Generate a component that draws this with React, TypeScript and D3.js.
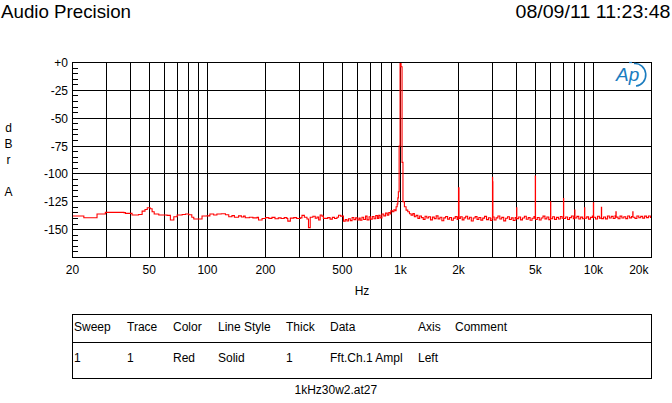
import React from 'react';
import * as d3 from 'd3';

// ---------- data ----------
const lowBandHz = [20, 22.9, 26.8, 29.6, 36.9, 37.6, 40.7, 44, 45.9, 47.5, 48.8, 50.5, 51.7, 53, 56, 61.8, 64.3, 67, 69.7, 74, 77, 80, 83, 85, 90, 93.8, 99.6, 103, 107.8, 112, 118, 124, 129, 134, 138, 145, 150, 154, 157, 165, 172, 181, 184, 192, 200, 208, 216, 224, 233, 241, 250, 258, 261, 269, 280, 290, 303, 309, 318, 328, 334, 341, 352, 362, 370, 377, 384, 392, 399, 407, 420, 432, 444, 456, 469, 478, 490, 507, 518, 528, 538, 550, 562, 574, 586, 598, 610, 619, 632, 645, 660, 672, 688, 700, 715, 730, 745, 760, 772, 785, 802, 820, 838, 855, 870, 885, 892, 910, 925, 939, 950, 962, 970, 976];
const lowBandDb = [-137.8, -139.3, -136, -134.5, -134.7, -135.4, -136.9, -136.4, -133.4, -131.9, -130.3, -131.2, -133.9, -135.9, -136.9, -137.2, -141.4, -138.4, -136.9, -136.4, -135.9, -136.6, -138.9, -140.5, -140.4, -137.8, -137.6, -136, -136.8, -135.9, -135.8, -136.7, -138.4, -137.4, -138.9, -137.6, -138.7, -137.9, -139.3, -138.9, -139.4, -139, -141.4, -140, -139.2, -139.9, -139, -140.2, -139.4, -140, -139.2, -140, -142.4, -139.7, -139.2, -140, -139.4, -137.2, -138.9, -140.4, -148.2, -138.9, -138, -139.8, -138.7, -141.4, -136.9, -137.9, -139.9, -139.9, -139.2, -140.6, -139, -140, -138.9, -137.1, -137.9, -142.4, -140.9, -142.2, -140.2, -141.9, -139.1, -141, -139.4, -141.4, -139.7, -141.6, -138.9, -140.9, -137.9, -141.2, -138.4, -140.6, -138.2, -140.2, -137.4, -139.9, -137.2, -139.4, -135.9, -137.6, -135.2, -137, -134.6, -136, -133, -133.9, -132.2, -133, -129.4, -127, -121.5, -116];

const carrierHz = [985, 996, 1008, 1020, 1031, 1049, 1070, 1092, 1114, 1136];
const carrierDb = [-75, 0, -3.8, -89.6, -125, -129.5, -132.5, -134, -135.8, -137];

const upperBandHz = [1160, 1181, 1205, 1232, 1258, 1285, 1313, 1342, 1371, 1400, 1432, 1465, 1498, 1532, 1567, 1603, 1640, 1678, 1716, 1756, 1797, 1838, 1880, 1924, 1968, 1990, 2000, 2012, 2045, 2090, 2135, 2180, 2230, 2280, 2330, 2385, 2440, 2495, 2550, 2610, 2670, 2730, 2795, 2860, 2925, 2985, 3000, 3006, 3015, 3060, 3130, 3200, 3275, 3350, 3430, 3510, 3590, 3670, 3755, 3840, 3930, 3990, 4000, 4010, 4100, 4195, 4290, 4390, 4490, 4595, 4700, 4810, 4920, 4990, 5000, 5012, 5120, 5240, 5360, 5480, 5610, 5740, 5870, 5990, 6000, 6012, 6150, 6290, 6440, 6590, 6740, 6880, 6995, 7000, 7015, 7180, 7350, 7520, 7690, 7870, 7990, 8000, 8020, 8210, 8400, 8590, 8790, 8990, 9000, 9020, 9230, 9440, 9660, 9880, 9990, 10000, 10025, 10260, 10500, 10740, 10990, 11000, 11030, 11290, 11550, 11820, 12090, 12370, 12660, 12950, 13080, 13120, 13420, 13730, 14050, 14380, 14710, 15050, 15400, 15760, 16000, 16040, 16420, 16800, 17190, 17590, 18000, 18420, 18850, 19290, 19740, 20000];
const upperBandDb = [-135.6, -138.4, -137.2, -139.9, -137.7, -139.2, -140.8, -138, -139.6, -138.4, -141.2, -138.8, -140.1, -137.6, -140.3, -138.9, -142, -139.4, -138.2, -140.6, -139.1, -141.6, -139.7, -138.3, -140.9, -139.2, -112.5, -139.9, -138.4, -141.2, -139.4, -138, -140.5, -138.9, -142.3, -139.6, -138.3, -140.8, -139.1, -141.5, -139.7, -138.1, -141, -139.3, -141.8, -139.9, -103, -107, -138.6, -141.3, -139.4, -137.7, -140.5, -139, -142.1, -139.8, -138.4, -140.9, -139.4, -141.8, -139.2, -140.4, -130.5, -140.1, -138.6, -141.2, -139.5, -138, -140.7, -139.2, -141.6, -139.8, -138.3, -140, -102, -140.9, -139.1, -141.3, -139.6, -137.9, -140.3, -138.7, -141, -139.3, -125, -140.2, -138.4, -140.8, -139, -140.4, -138.2, -139.8, -138.4, -122, -140, -138.7, -140.9, -139.2, -137.8, -140.1, -138.4, -132.4, -139.6, -138.1, -140.4, -138.8, -140.2, -138.2, -130.3, -139.8, -138.5, -140.6, -139, -137.7, -139.4, -126, -138.9, -140.4, -138, -139.7, -138.3, -130, -140.1, -138.6, -140.3, -137.8, -139.5, -138.1, -140, -137.6, -134, -138.8, -140.2, -137.9, -139.6, -138.4, -140.1, -137.7, -139.4, -138.2, -134, -138.9, -140, -137.8, -139.3, -138.1, -139.7, -137.9, -139.2, -137.7, -139, -138.6];

const xTickHz = [20, 50, 100, 200, 500, 1000, 2000, 5000, 10000, 20000];
const xTickLabels = ['20', '50', '100', '200', '500', '1k', '2k', '5k', '10k', '20k'];
const xGridHz = [30, 40, 50, 60, 70, 80, 90, 100, 200, 300, 400, 500, 600, 700, 800, 900, 1000, 2000, 3000, 4000, 5000, 6000, 7000, 8000, 9000, 10000];
const yTickDb = [0, -25, -50, -75, -100, -125, -150];
const yTickLabels = ['+0', '-25', '-50', '-75', '-100', '-125', '-150'];
const yUnitLetters = ['d', 'B', 'r', '', 'A'];

const legendHeaders = ['Sweep', 'Trace', 'Color', 'Line Style', 'Thick', 'Data', 'Axis', 'Comment'];
const legendRow = ['1', '1', 'Red', 'Solid', '1', 'Fft.Ch.1 Ampl', 'Left', ''];
const titleText = 'Audio Precision';
const dateText = '08/09/11 11:23:48';
const fileText = '1kHz30w2.at27';
const xAxisTitle = 'Hz';

// ---------- layout ----------
const W = 672;
const H = 403;
const PL = 72.5, PR = 651.5, PT = 62.5, PB = 257.5;
const legendColX = [74, 127, 173, 218, 286, 330, 418, 455];
const FONT = '"Liberation Sans", Arial, Helvetica, sans-serif';

export default function App() {
  const x = d3.scaleLog().domain([20, 20000]).range([PL, PR]);
  const y = d3.scaleLinear().domain([-175, 0]).range([PB, PT]);
  const snap = (v: number) => Math.round(v - 0.5) + 0.5;

  const hz = [...lowBandHz, ...carrierHz, ...upperBandHz];
  const db = [...lowBandDb, ...carrierDb, ...upperBandDb];
  const pts: [number, number][] = hz.map((f, i) => [f, db[i]]);
  const line = d3
    .line<[number, number]>()
    .x((d) => x(d[0]))
    .y((d) => y(d[1]))
    .curve(d3.curveStepAfter);

  const minorTicks = d3.range(-170, 0, 5);

  return (
    <svg
      width={W}
      height={H}
      viewBox={`0 0 ${W} ${H}`}
      style={{ position: 'absolute', left: 0, top: 0, background: '#fff' }}
      fontFamily={FONT}
    >
      <rect x={0} y={0} width={W} height={H} fill="#fff" />
      {/* header */}
      <text x={1} y={18} fontSize={18.5} fill="#000" textLength={130} lengthAdjust="spacingAndGlyphs">
        {titleText}
      </text>
      <text x={515.5} y={18} fontSize={18.5} fill="#000" textLength={155} lengthAdjust="spacingAndGlyphs">
        {dateText}
      </text>

      {/* grid */}
      <g stroke="#000" strokeWidth={1} shapeRendering="crispEdges">
        {yTickDb.slice(1).map((v) => (
          <line key={'h' + v} x1={PL} x2={PR} y1={snap(y(v))} y2={snap(y(v))} />
        ))}
        {xGridHz.map((f) => (
          <line key={'v' + f} x1={snap(x(f))} x2={snap(x(f))} y1={PT} y2={PB} />
        ))}
        {minorTicks.map((v) => (
          <line key={'m' + v} x1={PL} x2={PL + 5} y1={snap(y(v))} y2={snap(y(v))} />
        ))}
      </g>

      {/* trace */}
      <defs>
        <clipPath id="plotclip">
          <rect x={PL} y={PT - 1} width={PR - PL} height={PB - PT + 1} />
        </clipPath>
      </defs>
      <path d={line(pts) || ''} fill="none" stroke="#ff0000" strokeWidth={1.1} clipPath="url(#plotclip)" />

      {/* border */}
      <rect x={PL} y={PT} width={PR - PL} height={PB - PT} fill="none" stroke="#000" strokeWidth={1} shapeRendering="crispEdges" />

      {/* logo */}
      <g fill="none" stroke="#1a7cbf">
        <text x={616} y={81} fontSize={19} fontStyle="italic" fill="#1a7cbf" stroke="none" fontFamily={FONT}>
          Ap
        </text>
        <path d="M 629 62.5 L 632 62.5" strokeWidth={1.2} />
        <path d="M 634 63.5 A 10.5 11 0 0 1 636 86" strokeWidth={1.6} />
      </g>

      {/* y labels */}
      <g fontSize={12} fill="#000" textAnchor="end">
        {yTickDb.map((v, i) => (
          <text key={'yl' + v} x={68} y={y(v) + 4.5}>
            {yTickLabels[i]}
          </text>
        ))}
      </g>
      <g fontSize={12} fill="#000" textAnchor="middle">
        {yUnitLetters.map((c, i) => (
          <text key={'u' + i} x={8.5} y={131.5 + i * 16}>
            {c}
          </text>
        ))}
      </g>

      {/* x labels */}
      <g fontSize={12} fill="#000">
        {xTickHz.map((f, i) => {
          const last = i === xTickHz.length - 1;
          return (
            <text
              key={'xl' + f}
              x={last ? x(f) - 3 : x(f)}
              y={274}
              textAnchor={last ? 'end' : 'middle'}
            >
              {xTickLabels[i]}
            </text>
          );
        })}
        <text x={(PL + PR) / 2} y={295} textAnchor="middle">
          {xAxisTitle}
        </text>
      </g>

      {/* legend table */}
      <g stroke="#000" strokeWidth={1} shapeRendering="crispEdges" fill="none">
        <rect x={PL} y={314.5} width={PR - PL} height={64} />
        <line x1={PL} x2={PR} y1={342.5} y2={342.5} />
      </g>
      <g fontSize={12} fill="#000">
        {legendHeaders.map((h, i) => (
          <text key={'lh' + i} x={legendColX[i]} y={331}>
            {h}
          </text>
        ))}
        {legendRow.map((h, i) => (
          <text key={'lr' + i} x={legendColX[i]} y={362}>
            {h}
          </text>
        ))}
        <text x={294.5} y={394}>
          {fileText}
        </text>
      </g>
    </svg>
  );
}
